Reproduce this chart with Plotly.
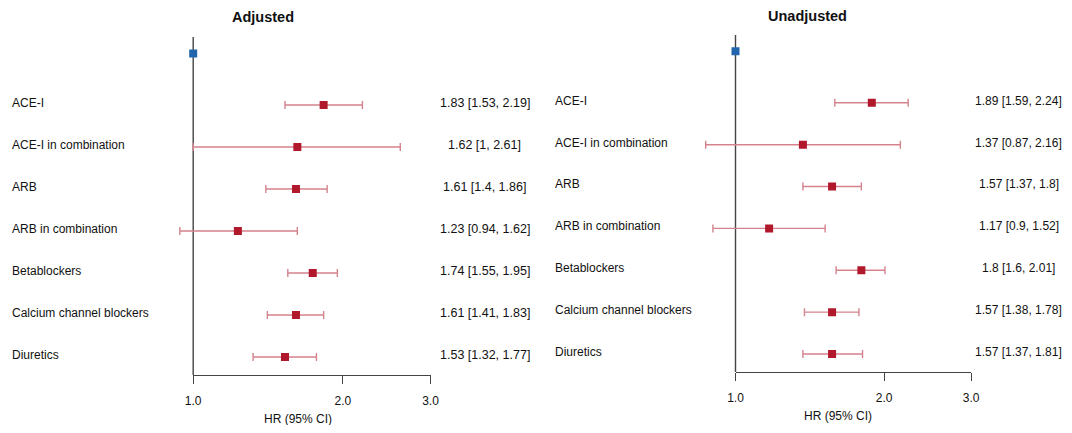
import plotly.graph_objects as go

drugs = ["ACE-I", "ACE-I in combination", "ARB", "ARB in combination",
         "Betablockers", "Calcium channel blockers", "Diuretics"]
adj_hr = [1.83, 1.62, 1.61, 1.23, 1.74, 1.61, 1.53]
adj_lo = [1.53, 1.00, 1.40, 0.94, 1.55, 1.41, 1.32]
adj_hi = [2.19, 2.61, 1.86, 1.62, 1.95, 1.83, 1.77]
unadj_hr = [1.89, 1.37, 1.57, 1.17, 1.80, 1.57, 1.57]
unadj_lo = [1.59, 0.87, 1.37, 0.90, 1.60, 1.38, 1.37]
unadj_hi = [2.24, 2.16, 1.80, 1.52, 2.01, 1.78, 1.81]
ref_hr = 1.0
tick_vals = [1, 2, 3]
tick_text = ["1.0", "2.0", "3.0"]
panel_titles = ["Adjusted", "Unadjusted"]
x_title = "HR (95% CI)"

# page body margin is 8px
OFF = 8
W, H = 1072 - OFF, 433 - 2 * OFF
# empirically measured mapping of paper pixels to screen pixels (horizontal)
XA = 16.5
PW = W - 17
FONT = "Liberation Sans, Arial, sans-serif"
RED = "#b2182b"
PINK = "#d4838d"
BLUE = "#2166ac"
AX = "#444444"

pos = list(range(1, len(drugs) + 1))
REF_POS = -0.23
YR = [7.43, -0.62]


def px(p):
    return (p - XA) / PW


def py(p):
    return (H - (p - OFF)) / H


def fmt(v):
    return f"{v:g}"


fig = go.Figure()

panels = [
    dict(hr=adj_hr, lo=adj_lo, hi=adj_hi, xa="x", ya="y", axa="x3",
         ydom=[py(375), py(37)], data_px=(150, 445), one_px=193.7, scale=497,
         three_px=431, lab_x=10.5, val_x=485, val_size=12.5, title_x=263, title_y=17,
         xt_x=298, xt_y=419),
    dict(hr=unadj_hr, lo=unadj_lo, hi=unadj_hi, xa="x2", ya="y2", axa="x4",
         ydom=[py(372), py(35)], data_px=(690, 985), one_px=736, scale=493,
         three_px=971.7, lab_x=553.5, val_x=1019, val_size=12, title_x=808, title_y=16,
         xt_x=838, xt_y=416),
]

layout = {}
annotations = []
for i, p in enumerate(panels):
    hr, lo, hi = p["hr"], p["lo"], p["hi"]
    # invisible trace for the visible axis subplot (drawn first, underneath)
    fig.add_trace(go.Scatter(x=[1], y=[YR[0]], mode="markers", marker=dict(opacity=0),
                             xaxis=p["axa"], yaxis=p["ya"], showlegend=False, hoverinfo="skip"))
    # reference line at HR = 1
    fig.add_trace(go.Scatter(x=[ref_hr, ref_hr], y=YR, mode="lines",
                             line=dict(color=AX, width=1.4), xaxis=p["xa"], yaxis=p["ya"],
                             showlegend=False, hoverinfo="skip"))
    # reference category
    fig.add_trace(go.Scatter(x=[ref_hr], y=[REF_POS], mode="markers",
                             marker=dict(symbol="square", size=8, color=BLUE),
                             xaxis=p["xa"], yaxis=p["ya"], showlegend=False))
    # estimates
    fig.add_trace(go.Scatter(
        x=hr, y=pos, mode="markers",
        marker=dict(symbol="square", size=8, color=RED),
        error_x=dict(type="data", symmetric=False,
                     array=[h - m for h, m in zip(hi, hr)],
                     arrayminus=[m - l for m, l in zip(hr, lo)],
                     color=PINK, thickness=1.4, width=4),
        xaxis=p["xa"], yaxis=p["ya"], showlegend=False))

    l0 = (p["data_px"][0] - p["one_px"]) / p["scale"]
    l1 = (p["data_px"][1] - p["one_px"]) / p["scale"]
    xk = "xaxis" if i == 0 else "xaxis2"
    yk = "yaxis" if i == 0 else "yaxis2"
    axk = "xaxis3" if i == 0 else "xaxis4"
    layout[xk] = dict(domain=[px(p["data_px"][0]), px(p["data_px"][1])], type="log",
                      range=[l0, l1], visible=False, anchor=p["ya"])
    layout[yk] = dict(domain=p["ydom"], range=YR, visible=False,
                      anchor=p["xa"])
    layout[axk] = dict(domain=[px(p["one_px"]), px(p["three_px"])], type="log",
                       range=[0, 0.47712], anchor=p["ya"], showline=True, linecolor=AX,
                       linewidth=1.4, ticks="outside", ticklen=8, tickwidth=1.4,
                       tickcolor=AX, tickvals=tick_vals, ticktext=tick_text,
                       tickfont=dict(size=12, color="#111", family=FONT),
                       showgrid=False, zeroline=False, ticklabelstandoff=6)

    for k, (name, m, l, h) in enumerate(zip(drugs, hr, lo, hi)):
        annotations.append(dict(x=px(p["lab_x"]), xref="paper", y=pos[k] - 0.05,
                                yref=p["ya"], text=name, showarrow=False,
                                xanchor="left", yanchor="middle",
                                font=dict(size=12, color="#111", family=FONT)))
        annotations.append(dict(x=px(p["val_x"]), xref="paper", y=pos[k] - 0.05,
                                yref=p["ya"], text=f"{fmt(m)} [{fmt(l)}, {fmt(h)}]",
                                showarrow=False, xanchor="center", yanchor="middle",
                                font=dict(size=p["val_size"], color="#111", family=FONT)))
    annotations.append(dict(x=px(p["title_x"]), xref="paper", y=py(p["title_y"]), yref="paper",
                            text=f"<b>{panel_titles[i]}</b>", showarrow=False,
                            xanchor="center", yanchor="middle",
                            font=dict(size=14.5, color="#111", family=FONT)))
    annotations.append(dict(x=px(p["xt_x"]), xref="paper", y=py(p["xt_y"]), yref="paper",
                            text=x_title, showarrow=False, xanchor="center", yanchor="middle",
                            font=dict(size=12, color="#111", family=FONT)))

fig.update_layout(width=W, height=H, margin=dict(l=0, r=0, t=0, b=0),
                  paper_bgcolor="white", plot_bgcolor="rgba(0,0,0,0)",
                  font=dict(family=FONT), annotations=annotations, **layout)

fig.write_html("out.html")
